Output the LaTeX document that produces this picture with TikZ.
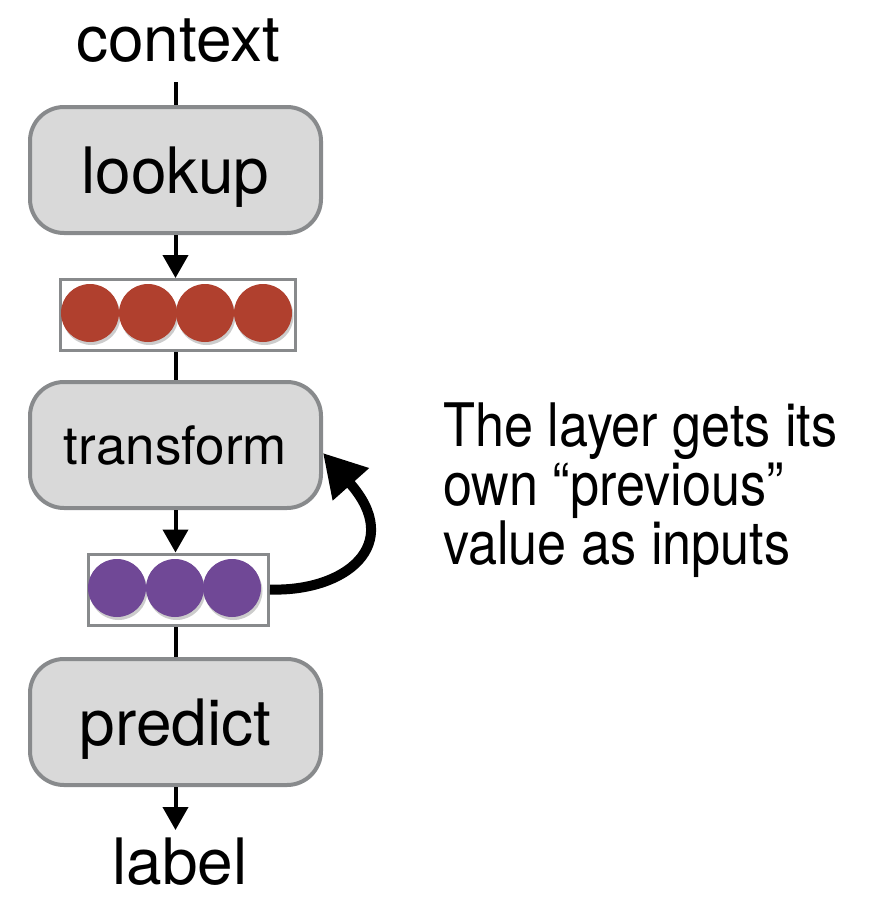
\documentclass[tikz,border=0pt]{standalone}
\usepackage{fontspec}
\setmainfont{TeX Gyre Heros}
\newfontfamily\notefont{TeX Gyre Heros}[FakeStretch=0.87]
\usetikzlibrary{arrows.meta,shadows,backgrounds}
\definecolor{boxfill}{RGB}{217,217,217}
\definecolor{boxline}{RGB}{136,138,140}
\definecolor{redc}{RGB}{176,64,46}
\definecolor{purc}{RGB}{112,72,150}
\begin{document}
\begin{tikzpicture}[x=1pt,y=-1pt,
  stage/.style={draw=boxline, fill=boxfill, line width=4pt, rounded corners=34pt,
    minimum width=291pt, minimum height=126pt, text depth=0pt, inner sep=0pt},
  vecbox/.style={draw=boxline, line width=3pt, fill=white, minimum height=71pt, inner sep=0pt},
  unit/.style={circle, minimum size=58pt, inner sep=0pt,
    drop shadow={shadow xshift=1.5pt, shadow yshift=-3pt, opacity=0.4}},
  flow/.style={line width=4pt, -{Triangle[length=23pt,width=25pt]}},
  loopback/.style={line width=10pt, -{Triangle[length=42pt,width=46pt]}},
  link/.style={line width=4pt},
  big/.style={font=\fontsize{64}{70}\selectfont},
  mid/.style={font=\fontsize{53}{60}\selectfont}
]
\useasboundingbox (0,0) rectangle (878,899);

\node[big, anchor=base, inner sep=0pt] (ctx) at (178,62) {context};
\node[stage, big] (look) at (175.5,170) {lookup};
\node[vecbox, minimum width=235pt] (rb) at (178,315) {};
\node[unit, fill=redc] (r1) at (90,313) {};
\node[unit, fill=redc] (r2) at (148,313) {};
\node[unit, fill=redc] (r3) at (205,313) {};
\node[unit, fill=redc] (r4) at (263,313) {};
\node[stage, mid] (tr) at (175.5,445) {transform};
\node[vecbox, minimum width=180pt] (pb) at (178.5,589.5) {};
\node[unit, fill=purc] (p1) at (117,588) {};
\node[unit, fill=purc] (p2) at (175,588) {};
\node[unit, fill=purc] (p3) at (232,588) {};
\node[stage, big] (pr) at (175.5,722) {predict};
\node[big, anchor=base, inner sep=0pt] (lab) at (180,884) {label};
\node[anchor=north west, align=left, inner sep=0pt,
  font=\notefont\fontsize{60}{59}\selectfont] (note) at (443,403)
  {The layer gets its\\own “previous”\\value as inputs};

\coordinate (c0) at (175.5,82);
\coordinate (lt) at (175.5,830);
\begin{scope}[on background layer]
  \draw[link] (c0) -- (look.north);
  \draw[link] (look.south |- rb.south) -- (tr.north);
  \draw[link] (tr.south |- pb.south) -- (pr.north);
\end{scope}
\draw[flow] (look.south) -- (look.south |- rb.north);
\draw[flow] (tr.south) -- (tr.south |- pb.north);
\draw[flow] (pr.south) -- (lt);
\draw[loopback]
  (pb.east) .. controls (345,592) and (405,545) .. ([yshift=-8pt]tr.east);
\end{tikzpicture}
\end{document}
